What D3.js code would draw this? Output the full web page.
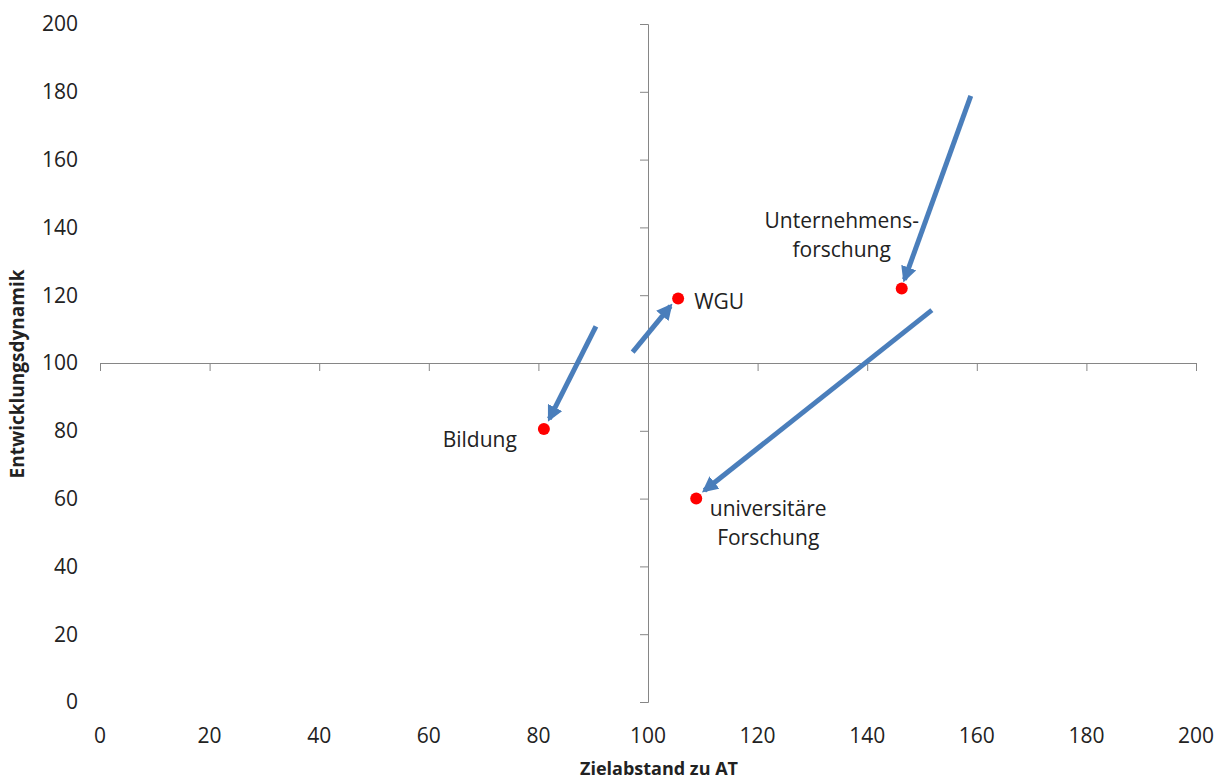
<!DOCTYPE html>
<html>
<head>
<meta charset="utf-8">
<script src="https://cdn.jsdelivr.net/npm/d3@7"></script>
<style>
  body { margin: 0; background: #fff; }
  text { font-family: "Open Sans", "Noto Sans", sans-serif; fill: #222; }
</style>
</head>
<body>
<div id="chart"></div>
<script>
// data
var names = ["Bildung", "WGU", "Unternehmensforschung", "universitäre Forschung"];
var xVals = [81, 105.5, 146.3, 108.8];
var yVals = [80.5, 119, 122, 60];
// arrow start / end points (data units)
var arrowX0 = [90.5, 97.2, 158.9, 151.8];
var arrowY0 = [110.8, 103.2, 178.8, 115.6];
var arrowX1 = [82, 104.1, 146.8, 110.3];
var arrowY1 = [83.5, 116.8, 124.6, 62.4];
var xTicks = [0, 20, 40, 60, 80, 100, 120, 140, 160, 180, 200];
var yTicks = [0, 20, 40, 60, 80, 100, 120, 140, 160, 180, 200];

var width = 1221, height = 781;
var margin = { top: 24, right: 25, bottom: 79, left: 100 };

var x = d3.scaleLinear().domain([0, 200]).range([margin.left, width - margin.right]);
var y = d3.scaleLinear().domain([0, 200]).range([height - margin.bottom, margin.top]);

var svg = d3.select("#chart").append("svg")
    .attr("width", width)
    .attr("height", height);

svg.append("defs").append("marker")
    .attr("id", "arrow")
    .attr("viewBox", "0 0 10 10")
    .attr("refX", 8)
    .attr("refY", 5)
    .attr("markerWidth", 3.2)
    .attr("markerHeight", 3.2)
    .attr("orient", "auto")
    .append("path")
    .attr("d", "M0,0 L10,5 L0,10 z")
    .attr("fill", "#4a7ebb");

var axisColor = "#868686";

// horizontal axis crossing at y = 100
var xAxis = svg.append("g")
    .attr("transform", "translate(0," + y(100) + ")")
    .call(d3.axisBottom(x).tickValues(xTicks).tickSize(8).tickSizeOuter(8).tickFormat(""));
xAxis.selectAll("path, line").attr("stroke", axisColor);

// vertical axis crossing at x = 100
var yAxis = svg.append("g")
    .attr("transform", "translate(" + x(100) + ",0)")
    .call(d3.axisLeft(y).tickValues(yTicks).tickSize(8).tickSizeOuter(8).tickFormat(""));
yAxis.selectAll("path, line").attr("stroke", axisColor);

// tick labels at the chart edges
svg.selectAll(".xlab")
    .data(xTicks)
    .enter().append("text")
    .attr("x", function (d) { return x(d); })
    .attr("y", height - margin.bottom + 41)
    .attr("text-anchor", "middle")
    .style("font-size", "21px")
    .text(function (d) { return d; });

svg.selectAll(".ylab")
    .data(yTicks)
    .enter().append("text")
    .attr("x", 78)
    .attr("y", function (d) { return y(d); })
    .attr("dy", "0.35em")
    .attr("text-anchor", "end")
    .style("font-size", "21px")
    .text(function (d) { return d; });

// axis titles
svg.append("text")
    .attr("x", 659)
    .attr("y", 775)
    .attr("text-anchor", "middle")
    .style("font-size", "18px")
    .style("font-weight", "bold")
    .text("Zielabstand zu AT");

svg.append("text")
    .attr("transform", "translate(24,374) rotate(-90)")
    .attr("text-anchor", "middle")
    .style("font-size", "19px")
    .style("font-weight", "bold")
    .text("Entwicklungsdynamik");

// arrows
svg.selectAll(".arrow")
    .data(names)
    .enter().append("line")
    .attr("x1", function (d, i) { return x(arrowX0[i]); })
    .attr("y1", function (d, i) { return y(arrowY0[i]); })
    .attr("x2", function (d, i) { return x(arrowX1[i]); })
    .attr("y2", function (d, i) { return y(arrowY1[i]); })
    .attr("stroke", "#4a7ebb")
    .attr("stroke-width", 5)
    .attr("marker-end", "url(#arrow)");

// points
svg.selectAll(".dot")
    .data(names)
    .enter().append("circle")
    .attr("cx", function (d, i) { return x(xVals[i]); })
    .attr("cy", function (d, i) { return y(yVals[i]); })
    .attr("r", 6)
    .attr("fill", "#ff0000");

// point labels
function label(i, lines, dx, dy, anchor) {
    var t = svg.append("text")
        .attr("text-anchor", anchor)
        .style("font-size", "21px");
    lines.forEach(function (s, k) {
        t.append("tspan")
            .attr("x", x(xVals[i]) + dx)
            .attr("y", y(yVals[i]) + dy + k * 29)
            .text(s);
    });
}
label(0, ["Bildung"], -27, 18, "end");
label(1, ["WGU"], 16, 10, "start");
label(2, ["Unternehmens-", "forschung"], -60, -60, "middle");
label(3, ["universitäre", "Forschung"], 72, 17, "middle");
</script>
</body>
</html>
